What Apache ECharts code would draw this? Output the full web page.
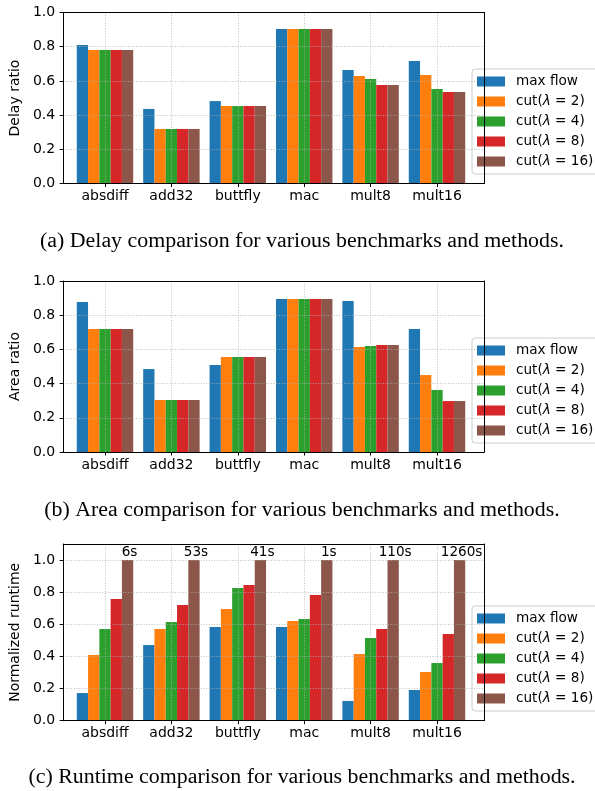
<!DOCTYPE html>
<html><head><meta charset="utf-8">
<script src="https://cdn.jsdelivr.net/npm/echarts@6/dist/echarts.min.js"></script>
<style>html,body{margin:0;padding:0;background:#fff}#c{width:595px;height:791px}</style>
</head><body><div id="c"></div>
<script>
const categories = ['absdiff','add32','buttfly','mac','mult8','mult16'];
const seriesNames = ['max flow','cut(λ = 2)','cut(λ = 4)','cut(λ = 8)','cut(λ = 16)'];
const colors = ['#1f77b4','#ff7f0e','#2ca02c','#d62728','#8c564b'];

const delayMaxFlow = [0.81,0.436,0.482,0.903,0.664,0.716];
const delayCut2    = [0.78,0.319,0.453,0.903,0.629,0.635];
const delayCut4    = [0.78,0.319,0.453,0.903,0.611,0.553];
const delayCut8    = [0.78,0.319,0.453,0.903,0.576,0.535];
const delayCut16   = [0.78,0.319,0.453,0.903,0.576,0.535];

const areaMaxFlow = [0.877,0.485,0.509,0.895,0.883,0.719];
const areaCut2    = [0.719,0.304,0.556,0.895,0.614,0.450];
const areaCut4    = [0.719,0.304,0.556,0.895,0.620,0.363];
const areaCut8    = [0.719,0.304,0.556,0.895,0.626,0.298];
const areaCut16   = [0.719,0.304,0.556,0.895,0.626,0.298];

const runtimeMaxFlow = [0.172,0.471,0.583,0.583,0.123,0.191];
const runtimeCut2    = [0.409,0.571,0.695,0.620,0.415,0.303];
const runtimeCut4    = [0.571,0.614,0.826,0.633,0.515,0.359];
const runtimeCut8    = [0.757,0.720,0.844,0.782,0.571,0.540];
const runtimeCut16   = [1,1,1,1,1,1];
const runtimeLabels  = ['6s','53s','41s','1s','110s','1260s'];

const yTicks = [0,0.2,0.4,0.6,0.8,1.0];
const captions = [
  '(a) Delay comparison for various benchmarks and methods.',
  '(b) Area comparison for various benchmarks and methods.',
  '(c) Runtime comparison for various benchmarks and methods.'
];
const yNames = ['Delay ratio','Area ratio','Normalized runtime'];

const panels = [
  {top:12.5, height:171, yMax:1.0, data:[delayMaxFlow,delayCut2,delayCut4,delayCut8,delayCut16], labels:null, legendTop:69, capY:241},
  {top:281, height:171, yMax:1.0, data:[areaMaxFlow,areaCut2,areaCut4,areaCut8,areaCut16], labels:null, legendTop:338, capY:510},
  {top:544, height:176.7, yMax:1.1, data:[runtimeMaxFlow,runtimeCut2,runtimeCut4,runtimeCut8,runtimeCut16], labels:runtimeLabels, legendTop:606, capY:777}
];

const FONT = 'DejaVu Sans';
const FS = 14;
const LFS = 13.6;
const grid=[], xAxis=[], yAxis=[], series=[], legend=[], graphic=[];
const dotted = {color:'#b0b0b0', width:0.8, type:[1,1.6]};
const frameLine = {show:true, onZero:false, lineStyle:{color:'#000', width:1}};

panels.forEach((p, k) => {
  const g0 = 2*k, g1 = 2*k+1;
  grid.push({left:58, width:426.3, top:p.top, height:p.height, containLabel:false});
  grid.push({left:105, width:332, top:p.top, height:p.height, containLabel:false});
  xAxis.push({gridIndex:g0, type:'value', min:0, max:1, position:'bottom', z:5, axisLine:frameLine, axisTick:{show:false}, axisLabel:{show:false}, splitLine:{show:false}});
  xAxis.push({gridIndex:g0, type:'value', min:0, max:1, position:'top', z:5, axisLine:frameLine, axisTick:{show:false}, axisLabel:{show:false}, splitLine:{show:false}});
  const xi = xAxis.length;
  xAxis.push({gridIndex:g1, type:'category', data:categories, boundaryGap:false, z:3,
    axisLine:{show:false},
    axisTick:{show:true, length:3.5, interval:0, lineStyle:{color:'#000', width:1}},
    axisLabel:{interval:0, color:'#000', fontFamily:FONT, fontSize:FS, margin:6},
    splitLine:{show:true, interval:0, lineStyle:dotted}});
  yAxis.push({gridIndex:g0, type:'value', min:0, max:p.yMax, interval:0.2, z:4, position:'left',
    name:yNames[k], nameLocation:'middle', nameGap:38, nameRotate:90,
    nameTextStyle:{color:'#000', fontFamily:FONT, fontSize:FS},
    axisLine:frameLine,
    axisTick:{show:true, length:3.5, customValues:yTicks, lineStyle:{color:'#000', width:1}},
    axisLabel:{color:'#000', fontFamily:FONT, fontSize:FS, margin:8, customValues:yTicks, formatter:v=>v.toFixed(1)},
    splitLine:{show:true, lineStyle:dotted}});
  yAxis.push({gridIndex:g0, type:'value', min:0, max:p.yMax, position:'right', z:5, axisLine:frameLine, axisTick:{show:false}, axisLabel:{show:false}, splitLine:{show:false}});
  const yl = yAxis.length;
  yAxis.push({gridIndex:g1, type:'value', min:0, max:p.yMax, show:false});
  p.data.forEach((arr, s) => {
    const ser = {type:'bar', name:seriesNames[s], xAxisIndex:xi, yAxisIndex:yl, data:arr,
      barGap:'0%', barCategoryGap:'15%', itemStyle:{color:colors[s]}, z:2};
    if (p.labels && s === 4) {
      ser.label = {show:true, position:'top', distance:1, offset:[2,0], color:'#000', fontFamily:FONT, fontSize:13.6,
        formatter:(d)=>p.labels[d.dataIndex]};
    }
    series.push(ser);
  });
  legend.push({left:472, top:p.legendTop, orient:'vertical', data:seriesNames, icon:'rect', itemWidth:28, itemHeight:10, itemGap:5,
    padding:[5,6,5,5], backgroundColor:'rgba(255,255,255,0.8)', borderColor:'#cccccc', borderWidth:1, borderRadius:3,
    selectedMode:false,
    formatter:(name)=>'{n|' + name.replace('λ','}{i|λ}{n|') + '}',
    textStyle:{color:'#000', fontFamily:FONT, fontSize:LFS, lineHeight:15, padding:[0,0,0,6],
      rich:{n:{color:'#000', fontFamily:FONT, fontSize:LFS, lineHeight:15}, i:{color:'#000', fontFamily:FONT, fontSize:LFS, fontStyle:'italic', lineHeight:15}}}});
  graphic.push({type:'text', x:302, y:p.capY, style:{text:captions[k], font:'21.9px "Liberation Serif"', fill:'#000', align:'center', verticalAlign:'middle'}});
});

const chart = echarts.init(document.getElementById('c'), null, {renderer:'canvas'});
chart.setOption({animation:false, backgroundColor:'#fff', grid, xAxis, yAxis, series, legend, graphic});
</script></body></html>
